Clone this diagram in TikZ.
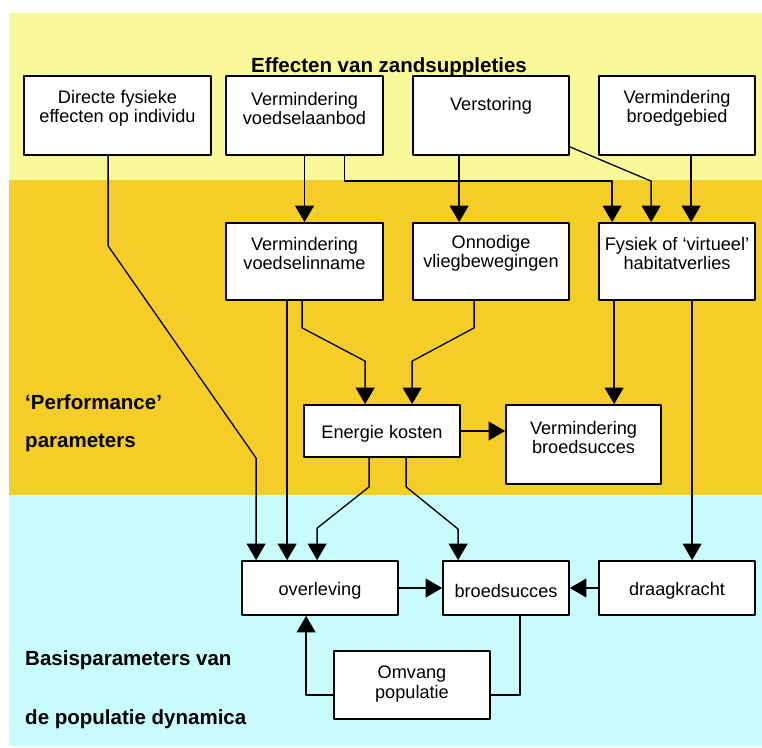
\documentclass[tikz,border=0pt]{standalone}
\usepackage{fontspec}
\setmainfont{Liberation Sans}
\usetikzlibrary{calc,arrows.meta}
\definecolor{geel}{RGB}{249,249,154}
\definecolor{oranje}{RGB}{245,205,40}
\definecolor{cyaan}{RGB}{200,251,251}

\begin{document}
\begin{tikzpicture}[x=0.03cm, y=-0.03cm, line join=round,
	kader/.style 2 args={draw, line width=1.5pt, fill=white, inner sep=0pt, minimum width=#1*0.03cm, minimum height=#2*0.03cm},
	tekst/.style={align=center, inner sep=0pt, font=\fontsize{15.5pt}{16.3pt}\selectfont},
	kop/.style={anchor=base west, inner sep=0pt, font=\fontsize{17.5pt}{20pt}\selectfont\bfseries},
	lijn/.style={line width=1.1pt},
	pijl/.style={lijn, -{Triangle[width=16pt,length=14pt]}}]

			\useasboundingbox (0,0) rectangle (762,747);

			\fill[geel] (9,13) rectangle (762,180);

			\fill[oranje] (9,180) rectangle (762,495);

			\fill[cyaan] (9,495) rectangle (762,746);

			\node[kop, anchor=base] (hkop) at (389,72) {Effecten van zandsuppleties};

			\node[kop] (hperf) at (25,409) {‘Performance’};

			\node[kop] (hpar) at (25,447) {parameters};

			\node[kop] (hbas) at (25,665) {Basisparameters van};

			\node[kop] (hdyn) at (25,724) {de populatie dynamica};

			\node[kader={187}{79}] (dfe) at (117.5,115.5) {};

			\node[kader={157}{79}] (vva) at (304.5,115.5) {};

			\node[kader={156}{79}] (vst) at (491,115.5) {};

			\node[kader={156}{79}] (vbg) at (677,115.5) {};

			\node[kader={157}{77}] (vvi) at (304.5,261.5) {};

			\node[kader={156}{77}] (ovb) at (491,261.5) {};

			\node[kader={156}{77}] (fhv) at (677,261.5) {};

			\node[kader={156}{52}] (ekn) at (382,431) {};

			\node[kader={155}{79}] (vbs) at (583.5,444.5) {};

			\node[kader={156}{54}] (ovl) at (320,588) {};

			\node[kader={126}{54}] (bsc) at (506,588) {};

			\node[kader={156}{54}] (dgk) at (677,588) {};

			\node[kader={156}{68}] (omp) at (412,685) {};

			\node[tekst] (t-dfe) at ($(dfe.north)+(0,33.5)$) {Directe fysieke\\effecten op individu};

			\node[tekst] (t-vva) at ($(vva.north)+(0,33.5)$) {Vermindering\\voedselaanbod};

			\node[tekst] (t-vst) at ($(vst.north)+(0,30.5)$) {Verstoring};

			\node[tekst] (t-vbg) at ($(vbg.north)+(0,33.5)$) {Vermindering\\broedgebied};

			\node[tekst] (t-vvi) at ($(vvi.north)+(0,31.5)$) {Vermindering\\voedselinname};

			\node[tekst] (t-ovb) at ($(ovb.north)+(0,31.5)$) {Onnodige\\vliegbewegingen};

			\node[tekst] (t-fhv) at ($(fhv.north)+(0,31.5)$) {Fysiek of ‘virtueel’\\habitatverlies};

			\node[tekst] (t-ekn) at ($(ekn.center)+(0,3)$) {Energie kosten};

			\node[tekst] (t-vbs) at ($(vbs.north)+(0,33)$) {Vermindering\\broedsucces};

			\node[tekst] (t-ovl) at ($(ovl.center)+(0,3)$) {overleving};

			\node[tekst] (t-bsc) at ($(bsc.center)+(0,3)$) {broedsucces};

			\node[tekst] (t-dgk) at ($(dgk.center)+(0,3)$) {draagkracht};

			\node[tekst] (t-omp) at ($(omp.center)+(0,-1)$) {Omvang\\populatie};

			\draw[pijl] ($(dfe.south west)+(85,0)$) -- ++(0,90) -- ($(ovl.north west)+(15,-102)$) -- ($(ovl.north west)+(15,0)$);

			\draw[pijl] (vva.south) -- (vvi.north);

			\draw[pijl] ($(vva.south)+(40,0)$) -- ++(0,25) -| ($(fhv.north west)+(14,0)$);

			\draw[pijl] ($(vst.south west)+(47,0)$) -- ($(ovb.north west)+(47,0)$);

			\draw[pijl] ($(vst.south east)+(0,-9)$) -- ($(fhv.north west)+(53,-41)$) -- ($(fhv.north west)+(53,0)$);

			\draw[pijl] ($(vbg.south west)+(93,0)$) -- ($(fhv.north west)+(93,0)$);

			\draw[pijl] ($(vvi.south west)+(62,0)$) -- ($(ovl.north west)+(46,0)$);

			\draw[pijl] ($(vvi.south west)+(77,0)$) -- ++(0,27) -- ($(ekn.north west)+(62,-43)$) -- ($(ekn.north west)+(62,0)$);

			\draw[pijl] ($(ovb.south west)+(62,0)$) -- ++(0,27) -- ($(ekn.north west)+(109,-43)$) -- ($(ekn.north west)+(109,0)$);

			\draw[pijl] ($(fhv.south west)+(16,0)$) -- ($(vbs.north west)+(109,0)$);

			\draw[pijl] ($(fhv.south west)+(94,0)$) -- ($(dgk.north west)+(94,0)$);

			\draw[pijl] (ekn.east) -- (vbs.west |- ekn.east);

			\draw[pijl] ($(ekn.south west)+(66,0)$) -- ++(0,29) -- ($(ovl.north west)+(76,-32)$) -- ($(ovl.north west)+(76,0)$);

			\draw[pijl] ($(ekn.south west)+(103,0)$) -- ++(0,29) -- ($(bsc.north west)+(16,-31)$) -- ($(bsc.north west)+(16,0)$);

			\draw[pijl] (ovl.east) -- (bsc.west);

			\draw[pijl] (dgk.west) -- (bsc.east);

			\draw[lijn] ($(bsc.south west)+(78,0)$) |- ($(omp.south east)+(0,-25)$);

			\draw[pijl] ($(omp.south west)+(0,-25)$) -| ($(ovl.south west)+(65,0)$);

	\end{tikzpicture}
\end{document}
